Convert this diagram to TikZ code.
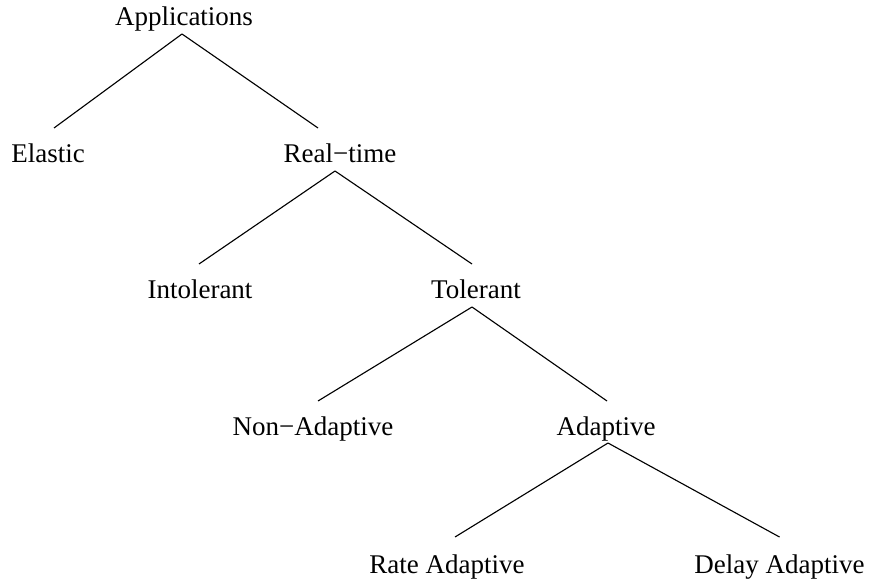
\documentclass[tikz,border=0pt]{standalone}
\usepackage{fontspec}
\setmainfont{Liberation Serif}
\tikzstyle{lbl}=[anchor=base,inner sep=0pt,font=\fontsize{12}{14}\selectfont]
\tikzstyle{bline}=[line width=0.5pt]
\def\branch#1#2#3#4{\draw[bline] ([shift={(#2)}]#1.base) -- ([shift={(#4)}]#3.base)}

\begin{document}
\begin{tikzpicture}[x=0.015627cm,y=-0.015627cm]
  \useasboundingbox (0,0) rectangle (869,579);

  % LABELS
  \node[lbl] (app)   at (184,26)    {Applications};
  \node[lbl] (el)    at (48,162)    {Elastic};
  \node[lbl] (rt)    at (340,162)   {Real−time};
  \node[lbl] (intol) at (200,298)   {Intolerant};
  \node[lbl] (tol)   at (476,298)   {Tolerant};
  \node[lbl] (nonad) at (313,435)   {Non−Adaptive};
  \node[lbl] (ad)    at (606,435)   {Adaptive};
  \node[lbl] (rate)  at (447,573)   {Rate Adaptive};
  \node[lbl] (delay) at (779.5,573) {Delay Adaptive};

  % BRANCHES
  \branch{app}{-2,8}{el}{6,-34};
  \branch{app}{-2,8}{rt}{-22,-34};
  \branch{rt}{-5,9}{intol}{-1,-34};
  \branch{rt}{-5,9}{tol}{-4,-34};
  \branch{tol}{-4,9}{nonad}{5,-34};
  \branch{tol}{-4,9}{ad}{1,-34};
  \branch{ad}{2,8}{rate}{8,-36};
  \branch{ad}{2,8}{delay}{0,-36};

\end{tikzpicture}
\end{document}
